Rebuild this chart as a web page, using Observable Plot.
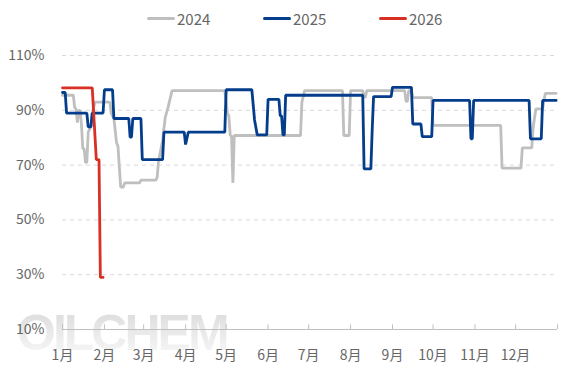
<!DOCTYPE html>
<html><head><meta charset="utf-8">
<script src="https://cdn.jsdelivr.net/npm/d3@7"></script>
<script src="https://cdn.jsdelivr.net/npm/@observablehq/plot@0.6"></script>
<style>
body{margin:0;background:#fff;font-family:"Noto Sans CJK SC","Noto Sans",sans-serif;}
#wrap{position:relative;width:567px;height:378px;overflow:hidden;background:#fff}
.item{position:absolute;top:6px;height:24px;display:flex;align-items:center;font-size:15px;color:#666}
.sw{width:28px;height:3px;border-radius:1.5px;margin-right:2px}
#chart{position:absolute;left:0;top:36px;z-index:2}
#wm{position:absolute;left:17px;top:308px;font:bold 50px "Liberation Sans",Arial,sans-serif;line-height:1;letter-spacing:-3px;
  background:linear-gradient(#c8c8c8,#f6f6f6);-webkit-background-clip:text;background-clip:text;color:transparent;opacity:0.65;z-index:1;white-space:nowrap}
</style></head>
<body>
<div id="wrap">
  <div id="legend"></div>
  <div id="wm">OILCHEM</div>
  <div id="chart"></div>
</div>
<script>
// ---- data ----
const seriesNames = ["2024", "2025", "2026"];
const seriesColors = ["#bfbfbf", "#033d8b", "#d93025"];
const monthLabels = ["1月","2月","3月","4月","5月","6月","7月","8月","9月","10月","11月","12月"];
const yTicks = [10, 30, 50, 70, 90, 110];

const s2024 = [
  ["01-01",95.5],["01-09",95.5],["01-10",91],["01-11",90.5],["01-12",85.5],["01-13",90],["01-14",90],
  ["01-15",85],["01-16",76],["01-17",76],["01-18",71],["01-19",71],["01-20",82],["01-22",84],["01-23",89],
  ["01-25",93],["02-05",93],["02-06",89],["02-08",87],["02-10",78],["02-11",77],["02-13",62],["02-15",62],
  ["02-16",63.5],["02-27",63.5],["02-28",64.5],["03-10",64.5],["03-11",65.5],["03-12",71.5],["03-15",79],
  ["03-17",87.5],["03-19",91],["03-22",97.2],["04-30",97.2],["05-02",89],["05-03",88],["05-04",81],
  ["05-05",80.5],["05-06",63.5],["05-07",80.8],["06-25",80.8],["06-26",93],["06-28",97.2],["07-26",97.2],
  ["07-27",80.8],["07-31",80.8],["08-01",97.2],["08-10",97.2],["08-11",94.8],["08-12",94.8],["08-13",97.2],
  ["09-10",97.2],["09-11",93.3],["09-12",93.3],["09-13",97.2],["09-15",97.2],["09-16",94.6],["09-30",94.6],
  ["10-01",84.5],["11-20",84.5],["11-21",68.9],["12-05",68.9],["12-06",76.3],["12-13",76.3],["12-14",83.8],
  ["12-16",90.5],["12-21",90.5],["12-23",96.2],["12-31",96.2]
];
const s2025 = [
  ["01-01",96.5],["01-03",96.5],["01-04",89],["01-19",89],["01-20",84],["01-22",84],["01-23",89],
  ["01-31",89],["02-01",97.5],["02-07",97.5],["02-08",87],["02-19",87],["02-20",80.2],["02-21",80.2],
  ["02-22",87],["02-28",87],["02-29",72],["03-15",72],["03-16",82],["03-31",82],["04-01",77.5],["04-03",82],
  ["04-30",82],["05-01",97.5],["05-20",97.5],["05-22",86.5],["05-24",81],["05-31",81],["06-01",94],
  ["06-09",94],["06-10",88],["06-11",88],["06-12",81],["06-13",81],["06-14",95.5],["08-10",95.5],
  ["08-11",68.6],["08-16",68.6],["08-17",83],["08-18",95],["08-31",95],["09-01",98.4],["09-15",98.4],
  ["09-16",85],["09-22",85],["09-23",80.4],["09-30",80.4],["10-01",93.6],["10-28",93.6],["10-29",79.6],
  ["10-30",79.6],["10-31",93.6],["12-11",93.6],["12-12",79.6],["12-20",79.6],["12-21",93.6],["12-31",93.6]
];
const s2026 = [
  ["01-01",98.2],["01-23",98.2],["01-26",72],["01-28",72],["01-29",29],["01-31",29]
];

// ---- build ----
const toDate = md => { const [m,d] = md.split("-").map(Number); return new Date(Date.UTC(2024, m-1, d)); };
const rows = [];
[[s2024,"2024"],[s2025,"2025"],[s2026,"2026"]].forEach(([arr,name]) =>
  arr.forEach(([md,v]) => rows.push({date: toDate(md), value: v, series: name})));
const monthTicks = d3.range(13).map(i => new Date(Date.UTC(2024, i, 1)));

const legend = document.getElementById("legend");
const legendX = [147, 263, 379];
seriesNames.forEach((n,i) => {
  const it = document.createElement("div");
  it.className = "item"; it.style.left = legendX[i] + "px";
  it.innerHTML = `<span class="sw" style="background:${seriesColors[i]}"></span><span>${n}</span>`;
  legend.appendChild(it);
});

const chart = Plot.plot({
  width: 567, height: 342,
  marginTop: 19, marginBottom: 49, marginLeft: 62, marginRight: 10,
  style: {fontFamily: '"Noto Sans CJK SC","Noto Sans",sans-serif', fontSize: "14px", color: "#666", background: "transparent"},
  x: {type: "utc", domain: [monthTicks[0], monthTicks[12]], label: null},
  y: {domain: [10, 110], label: null},
  color: {domain: seriesNames, range: seriesColors},
  marks: [
    Plot.gridY([30,50,70,90,110], {stroke: "#d9d9d9", strokeOpacity: 1, strokeDasharray: "4,4"}),
    Plot.axisY(yTicks, {tickSize: 0, tickPadding: 18, tickFormat: d => d + "%", fill: "#666", fontSize: 14, label: null}),
    Plot.ruleY([10], {stroke: "#bfbfbf", strokeWidth: 1}),
    Plot.ruleX(monthTicks, {x: d => d, y1: 10, y2: 11.7, stroke: "#bfbfbf"}),
    Plot.text(monthTicks.slice(0,12), {x: d => d, y: 10, dy: 26, text: (d,i) => monthLabels[i], fill: "#666", fontSize: 14}),
    Plot.line(rows, {x: "date", y: "value", z: "series", stroke: "series", strokeWidth: 2.8, strokeLinejoin: "miter", curve: "linear"})
  ]
});
chart.querySelectorAll('[aria-label="x-axis tick"], [aria-label="x-axis tick label"]').forEach(e => e.remove());
document.getElementById("chart").appendChild(chart);
</script>
</body></html>
